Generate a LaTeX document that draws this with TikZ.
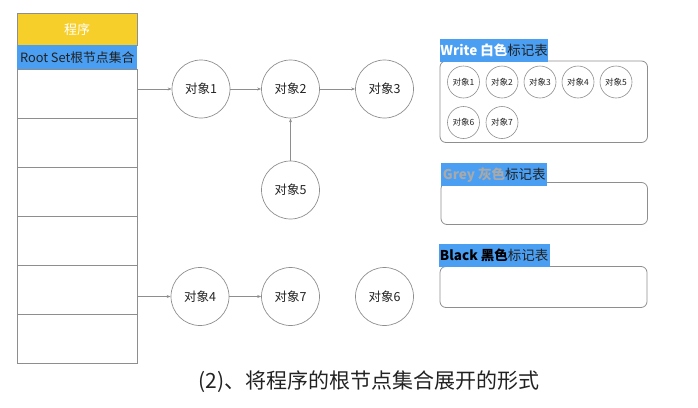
\documentclass[tikz,border=0pt]{standalone}
\usepackage{fontspec}
\setmainfont{Noto Sans CJK SC}
\usetikzlibrary{arrows.meta}
\definecolor{yel}{HTML}{F6CF2B}
\definecolor{blu}{HTML}{4A9FF3}
\definecolor{ln}{HTML}{8E8E8E}
\definecolor{txt}{HTML}{222222}
\tikzset{
  obj/.style={circle,draw=ln,line width=0.7pt,minimum size=58pt,inner sep=0pt,font=\fontsize{12.5}{14}\selectfont,text=txt},
  sobj/.style={circle,draw=ln,line width=0.6pt,minimum size=32pt,inner sep=0pt,font=\fontsize{8.5}{10}\selectfont,text=txt},
  arr/.style={draw=ln,line width=0.6pt,-{Stealth[length=4pt,width=3pt]}},
  tbl/.style={draw=ln,line width=0.8pt,rounded corners=6pt},
  lbl/.style={fill=blu,inner sep=0pt,anchor=north west,font=\fontsize{13.5}{15}\selectfont,text=txt},
}
\begin{document}
\begin{tikzpicture}[x=1pt,y=-1pt]
\useasboundingbox (0,0) rectangle (698,407);
% left column
\node[fill=yel,draw=ln,line width=0.4pt,minimum width=120pt,minimum height=32pt,inner sep=0pt,anchor=north west,text=white,font=\fontsize{13}{15}\selectfont] (prog) at (17,13) {程序};
\node[fill=blu,minimum width=120pt,minimum height=24pt,inner sep=0pt,anchor=north west,font=\fontsize{12.8}{15}\selectfont,text=txt] (root) at (17,45) {Root Set根节点集合};
\foreach \i/\y in {1/69,2/118,3/167,4/216,5/265,6/314}{
  \node[draw=ln,line width=0.7pt,minimum width=120pt,minimum height=49pt,inner sep=0pt,anchor=north west] (r\i) at (17,\y) {};
}
% objects
\node[obj] (o1) at (201,89) {对象1};
\node[obj] (o2) at (290.5,89) {对象2};
\node[obj] (o3) at (384.5,89) {对象3};
\node[obj] (o5) at (290.5,190) {对象5};
\node[obj] (o4) at (200,296.5) {对象4};
\node[obj] (o7) at (290.5,296.5) {对象7};
\node[obj] (o6) at (384.5,296.5) {对象6};
\coordinate (s1) at (137,89);
\coordinate (s4) at (137,296.5);
\draw[arr] (s1) -- (o1);
\draw[arr] (o1) -- (o2);
\draw[arr] (o2) -- (o3);
\draw[arr] (o5) -- (o2);
\draw[arr] (s4) -- (o4);
\draw[arr] (o4) -- (o7);
% white table
\draw[tbl] (440,61) rectangle (647.5,142.5);
\node[lbl,minimum width=108pt,minimum height=23pt] (wl) at (440,38.5) {\textcolor{white}{\bfseries Write 白色}标记表};
\node[sobj] (w1) at (463.5,82) {对象1};
\node[sobj] (w2) at (502,82) {对象2};
\node[sobj] (w3) at (540,82) {对象3};
\node[sobj] (w4) at (578,82) {对象4};
\node[sobj] (w5) at (616,82) {对象5};
\node[sobj] (w6) at (463.5,122.5) {对象6};
\node[sobj] (w7) at (502,122.5) {对象7};
% grey table
\draw[tbl] (441,182.5) rectangle (647.5,224.5);
\node[lbl,minimum width=106pt,minimum height=23pt] (gl) at (441,163) {\textcolor[HTML]{A9A9A9}{\bfseries Grey 灰色}标记表};
% black table
\draw[tbl] (440,266.5) rectangle (647,307.5);
\node[lbl,minimum width=111pt,minimum height=23pt] (bl) at (438.5,244) {\textcolor{black}{\bfseries Black 黑色}标记表};
% caption
\node[font=\fontsize{21}{24}\selectfont,text=txt] (cap) at (369,382) {(2)、将程序的根节点集合展开的形式};
\end{tikzpicture}
\end{document}
